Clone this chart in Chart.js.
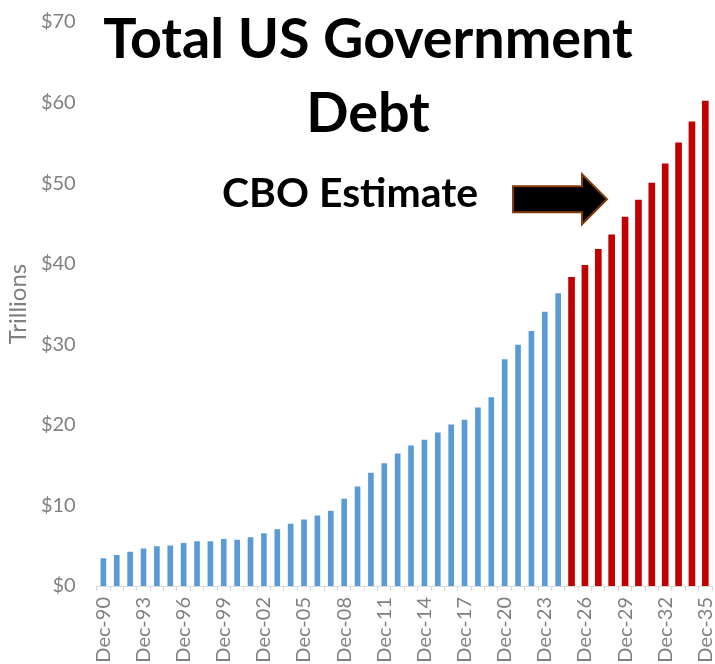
<!DOCTYPE html>
<html>
<head>
<meta charset="utf-8">
<script src="https://cdn.jsdelivr.net/npm/chart.js@4.4.1/dist/chart.umd.min.js"></script>
<style>
  html, body { margin: 0; padding: 0; background: #ffffff; }
  #wrap { width: 715px; height: 664px; position: relative; }
</style>
</head>
<body>
<div id="wrap"><canvas id="c" width="715" height="664"></canvas></div>
<script>
// ---- data ----
const categories = [
  'Dec-90','Dec-91','Dec-92','Dec-93','Dec-94','Dec-95','Dec-96','Dec-97','Dec-98','Dec-99',
  'Dec-00','Dec-01','Dec-02','Dec-03','Dec-04','Dec-05','Dec-06','Dec-07','Dec-08','Dec-09',
  'Dec-10','Dec-11','Dec-12','Dec-13','Dec-14','Dec-15','Dec-16','Dec-17','Dec-18','Dec-19',
  'Dec-20','Dec-21','Dec-22','Dec-23','Dec-24',
  'Dec-25','Dec-26','Dec-27','Dec-28','Dec-29','Dec-30','Dec-31','Dec-32','Dec-33','Dec-34','Dec-35'
];
// Trillions of dollars, actual (Dec-90 .. Dec-24)
const actualDebt = [
  3.4, 3.8, 4.2, 4.6, 4.9, 5.0, 5.3, 5.5, 5.5, 5.8,
  5.7, 6.0, 6.5, 7.0, 7.7, 8.2, 8.7, 9.3, 10.8, 12.3,
  14.0, 15.2, 16.4, 17.4, 18.1, 19.0, 20.0, 20.6, 22.1, 23.4,
  28.1, 29.9, 31.6, 34.0, 36.3
];
// CBO estimate (Dec-25 .. Dec-35)
const cboEstimate = [38.3, 39.8, 41.8, 43.6, 45.8, 47.9, 50.0, 52.4, 55.0, 57.6, 60.2];
const yTickValues = [0, 10, 20, 30, 40, 50, 60, 70];
const titleLines = ['Total US Government', 'Debt'];
const noteText = 'CBO Estimate';
const yAxisTitle = 'Trillions';

// ---- build datasets ----
const blueData = categories.map((c, i) => i < actualDebt.length ? actualDebt[i] : null);
const redData = categories.map((c, i) => i >= actualDebt.length ? cboEstimate[i - actualDebt.length] : null);

const GRAY = '#808080';
const FONT = 'Lato, "Open Sans", sans-serif';

const overlayPlugin = {
  id: 'overlay',
  afterDraw(chart) {
    const ctx = chart.ctx;
    const x = chart.scales.x, y = chart.scales.y;
    ctx.save();
    ctx.fillStyle = '#000';
    ctx.textAlign = 'center';
    ctx.textBaseline = 'alphabetic';
    // title: fit line 1 to its width in the reference
    ctx.font = 'bold 100px ' + FONT;
    const w1 = ctx.measureText(titleLines[0]).width;
    const s1 = 100 * 530 / w1;
    ctx.font = 'bold ' + s1.toFixed(1) + 'px ' + FONT;
    ctx.fillText(titleLines[0], 368, 58);
    ctx.fillText(titleLines[1], 368, 132);
    // note
    ctx.font = 'bold 100px ' + FONT;
    const w2 = ctx.measureText(noteText).width;
    const s2 = 100 * 256 / w2;
    ctx.font = 'bold ' + s2.toFixed(1) + 'px ' + FONT;
    ctx.fillText(noteText, 350, 207);
    // arrow anchored to data space
    const tipX = x.getPixelForValue(37.65);
    const tipY = y.getPixelForValue(48.0);
    const len = 94, headLen = 25, shaftHalf = 13, headHalf = 25;
    ctx.beginPath();
    ctx.moveTo(tipX - len, tipY - shaftHalf);
    ctx.lineTo(tipX - headLen, tipY - shaftHalf);
    ctx.lineTo(tipX - headLen, tipY - headHalf);
    ctx.lineTo(tipX, tipY);
    ctx.lineTo(tipX - headLen, tipY + headHalf);
    ctx.lineTo(tipX - headLen, tipY + shaftHalf);
    ctx.lineTo(tipX - len, tipY + shaftHalf);
    ctx.closePath();
    ctx.fillStyle = '#000';
    ctx.fill();
    ctx.lineWidth = 2;
    ctx.strokeStyle = '#843c0c';
    ctx.stroke();
    ctx.restore();
  }
};

new Chart(document.getElementById('c'), {
  type: 'bar',
  data: {
    labels: categories,
    datasets: [
      { label: 'Actual', data: blueData, backgroundColor: '#5b9bd5', barThickness: 5, grouped: false },
      { label: 'CBO Estimate', data: redData, backgroundColor: '#c00000', barThickness: 6, grouped: false }
    ]
  },
  options: {
    responsive: false,
    animation: false,
    devicePixelRatio: 1,
    layout: { padding: { left: 4, right: 3, top: 22, bottom: 0 } },
    plugins: { legend: { display: false }, tooltip: { enabled: false }, title: { display: false } },
    scales: {
      x: {
        grid: { display: true, offset: true, drawOnChartArea: false, drawTicks: true, tickLength: 5, color: '#d9d9d9' },
        border: { display: true, color: '#d9d9d9', width: 1 },
        ticks: {
          autoSkip: false, minRotation: 90, maxRotation: 90, padding: 6,
          color: GRAY, font: { family: FONT, size: 20 },
          callback: function(v, i) { return i % 3 === 0 ? categories[i] : ''; }
        },
        afterFit(scale) { scale.height = 78; scale.paddingRight = 0; scale.paddingLeft = 0; }
      },
      y: {
        min: 0, max: 70,
        afterBuildTicks(scale) { scale.ticks = yTickValues.map(v => ({ value: v })); },
        grid: { display: false, drawTicks: false },
        border: { display: false },
        ticks: { color: GRAY, font: { family: FONT, size: 20 }, padding: 21, callback: v => '$' + v },
        title: { display: true, text: yAxisTitle, color: GRAY, font: { family: FONT, size: 24 }, padding: { top: 0, bottom: 4 } },
        afterFit(scale) { scale.width = 92.7; scale.paddingTop = 0; scale.paddingBottom = 0; }
      }
    }
  },
  plugins: [overlayPlugin]
});
</script>
</body>
</html>
